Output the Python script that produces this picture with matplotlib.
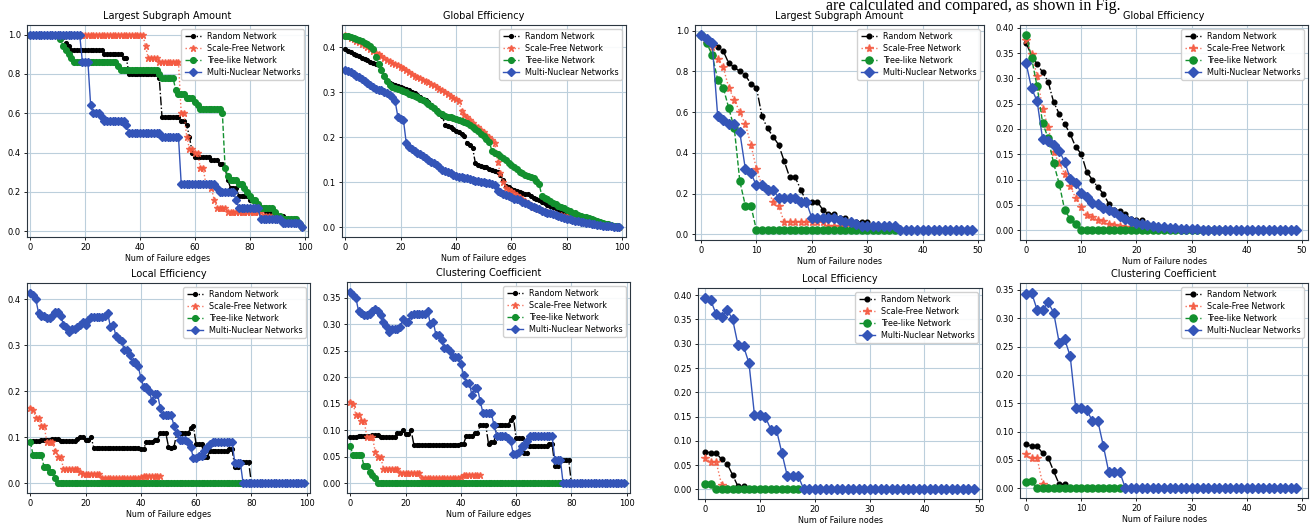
import matplotlib
matplotlib.use("Agg")
import matplotlib.pyplot as plt
import numpy as np

W, H = 1310, 523

NAMES = ["Random Network", "Scale-Free Network", "Tree-like Network", "Multi-Nuclear Networks"]

# ---------------- left block : failure of edges (x = 0..99) ----------------
# step series given as (value, run length)
lsa_rand = [(1.0, 13), (0.96, 1), (0.94, 1), (0.92, 12), (0.90, 7), (0.88, 2), (0.80, 11), (0.78, 1),
            (0.58, 7), (0.56, 2), (0.54, 1), (0.48, 1), (0.40, 1), (0.38, 6), (0.36, 3), (0.34, 2),
            (0.32, 1), (0.26, 1), (0.22, 3), (0.18, 4), (0.16, 3), (0.12, 3), (0.10, 3), (0.08, 4),
            (0.06, 3), (0.04, 3), (0.02, 1)]
lsa_sf = [(1.0, 42), (0.94, 1), (0.88, 4), (0.86, 8), (0.60, 2), (0.48, 1), (0.42, 2), (0.40, 2),
          (0.32, 2), (0.24, 2), (0.22, 1), (0.16, 1), (0.12, 4), (0.10, 13), (0.08, 6), (0.06, 5),
          (0.04, 3), (0.02, 1)]
lsa_tree = [(1.0, 11), (0.98, 1), (0.94, 1), (0.92, 1), (0.90, 1), (0.88, 1), (0.86, 16), (0.84, 1),
            (0.82, 14), (0.80, 1), (0.78, 5), (0.72, 1), (0.70, 3), (0.68, 3), (0.66, 1), (0.64, 1),
            (0.62, 8), (0.60, 1), (0.32, 1), (0.28, 1), (0.26, 3), (0.24, 2), (0.22, 1), (0.20, 1),
            (0.18, 1), (0.16, 2), (0.14, 1), (0.12, 5), (0.10, 1), (0.08, 2), (0.06, 6), (0.04, 1),
            (0.02, 1)]
lsa_multi = [(1.0, 19), (0.86, 3), (0.64, 1), (0.60, 3), (0.58, 1), (0.56, 8), (0.54, 1), (0.50, 12),
             (0.48, 7), (0.24, 13), (0.22, 1), (0.20, 6), (0.16, 1), (0.12, 8), (0.06, 8), (0.04, 7),
             (0.02, 1)]

ge_rand = [0.395, 0.392, 0.389, 0.386, 0.383, 0.380, 0.377, 0.374, 0.371, 0.368,
           0.365, 0.362, 0.360, 0.352, 0.338, 0.325, 0.320, 0.318, 0.316, 0.314,
           0.312, 0.310, 0.307, 0.304, 0.301, 0.298, 0.294, 0.290, 0.286, 0.282,
           0.278, 0.272, 0.266, 0.260, 0.254, 0.248, 0.228, 0.225, 0.222, 0.218,
           0.215, 0.212, 0.208, 0.203, 0.187, 0.182, 0.176, 0.142, 0.139, 0.137,
           0.135, 0.133, 0.130, 0.128, 0.126, 0.122, 0.116, 0.105, 0.092, 0.089,
           0.086, 0.083, 0.080, 0.078, 0.076, 0.075, 0.073, 0.070, 0.066, 0.063,
           0.060, 0.057, 0.053, 0.050, 0.047, 0.045, 0.042, 0.039, 0.037, 0.035,
           0.033, 0.030, 0.028, 0.026, 0.024, 0.022, 0.020, 0.018, 0.016, 0.014,
           0.013, 0.011, 0.010, 0.008, 0.007, 0.006, 0.004, 0.003, 0.001, 0.000]
ge_sf = [0.428, 0.425, 0.421, 0.418, 0.414, 0.411, 0.407, 0.404, 0.400, 0.396,
         0.392, 0.388, 0.384, 0.380, 0.376, 0.372, 0.369, 0.366, 0.363, 0.360,
         0.357, 0.353, 0.349, 0.345, 0.341, 0.337, 0.334, 0.331, 0.328, 0.325,
         0.322, 0.319, 0.316, 0.312, 0.308, 0.304, 0.300, 0.296, 0.292, 0.288,
         0.284, 0.280, 0.258, 0.250, 0.244, 0.238, 0.232, 0.226, 0.222, 0.217,
         0.212, 0.206, 0.200, 0.193, 0.188, 0.145, 0.120, 0.100, 0.088, 0.084,
         0.080, 0.076, 0.072, 0.068, 0.063, 0.058, 0.054, 0.050, 0.046, 0.043,
         0.040, 0.038, 0.036, 0.034, 0.033, 0.031, 0.030, 0.028, 0.027, 0.026,
         0.025, 0.023, 0.022, 0.020, 0.019, 0.017, 0.016, 0.014, 0.013, 0.011,
         0.010, 0.009, 0.008, 0.007, 0.005, 0.004, 0.003, 0.002, 0.001, 0.000]
ge_tree = [0.425, 0.424, 0.422, 0.420, 0.418, 0.416, 0.413, 0.410, 0.407, 0.403,
           0.395, 0.378, 0.362, 0.350, 0.336, 0.325, 0.316, 0.312, 0.310, 0.308,
           0.305, 0.303, 0.300, 0.297, 0.295, 0.292, 0.289, 0.286, 0.283, 0.279,
           0.275, 0.270, 0.264, 0.258, 0.254, 0.251, 0.248, 0.246, 0.244, 0.242,
           0.241, 0.239, 0.237, 0.234, 0.231, 0.227, 0.223, 0.218, 0.213, 0.208,
           0.203, 0.196, 0.189, 0.170, 0.166, 0.163, 0.159, 0.154, 0.149, 0.144,
           0.139, 0.134, 0.129, 0.124, 0.120, 0.116, 0.113, 0.111, 0.109, 0.103,
           0.096, 0.070, 0.066, 0.062, 0.058, 0.055, 0.052, 0.048, 0.045, 0.042,
           0.039, 0.036, 0.033, 0.031, 0.028, 0.026, 0.024, 0.022, 0.020, 0.018,
           0.016, 0.014, 0.012, 0.010, 0.008, 0.007, 0.005, 0.003, 0.002, 0.000]
ge_multi = [0.350, 0.348, 0.345, 0.341, 0.337, 0.333, 0.329, 0.325, 0.321, 0.317,
            0.312, 0.308, 0.306, 0.304, 0.301, 0.298, 0.295, 0.290, 0.280, 0.245,
            0.240, 0.238, 0.188, 0.178, 0.173, 0.170, 0.166, 0.162, 0.158, 0.154,
            0.150, 0.146, 0.142, 0.138, 0.134, 0.128, 0.125, 0.123, 0.120, 0.117,
            0.114, 0.112, 0.111, 0.110, 0.109, 0.108, 0.106, 0.104, 0.102, 0.101,
            0.100, 0.099, 0.098, 0.096, 0.095, 0.080, 0.078, 0.075, 0.072, 0.069,
            0.067, 0.064, 0.062, 0.060, 0.057, 0.054, 0.051, 0.048, 0.045, 0.042,
            0.040, 0.037, 0.035, 0.033, 0.031, 0.029, 0.027, 0.025, 0.023, 0.021,
            0.019, 0.018, 0.016, 0.015, 0.014, 0.012, 0.011, 0.010, 0.009, 0.008,
            0.007, 0.006, 0.005, 0.004, 0.003, 0.003, 0.002, 0.001, 0.001, 0.000]

le_rand = [(0.09, 1), (0.093, 2), (0.092, 1), (0.095, 4), (0.097, 3), (0.092, 6), (0.096, 1), (0.10, 2),
           (0.095, 2), (0.10, 1), (0.077, 15), (0.078, 2), (0.075, 2), (0.09, 3), (0.095, 2), (0.11, 3),
           (0.08, 1), (0.077, 1), (0.08, 1), (0.11, 5), (0.12, 1), (0.125, 1), (0.085, 3), (0.058, 2),
           (0.07, 7), (0.075, 2), (0.035, 2), (0.047, 4), (0.0, 20)]
le_sf = [(0.165, 1), (0.16, 1), (0.143, 2), (0.125, 2), (0.09, 3), (0.07, 1), (0.058, 2), (0.032, 6),
         (0.025, 1), (0.021, 7), (0.011, 14), (0.013, 1), (0.016, 7)]
le_tree = [(0.09, 1), (0.062, 4), (0.035, 2), (0.025, 2), (0.011, 1), (0.0, 90)]
le_multi = [(0.415, 1), (0.41, 1), (0.40, 1), (0.37, 1), (0.365, 2), (0.36, 2), (0.365, 1), (0.372, 2),
            (0.365, 1), (0.345, 1), (0.34, 1), (0.33, 1), (0.335, 2), (0.34, 1), (0.345, 1), (0.352, 1),
            (0.345, 1), (0.355, 1), (0.362, 5), (0.365, 1), (0.37, 1), (0.34, 1), (0.345, 1), (0.32, 1),
            (0.315, 1), (0.31, 1), (0.29, 2), (0.28, 1), (0.265, 2), (0.255, 1), (0.23, 1), (0.21, 2),
            (0.20, 1), (0.18, 1), (0.195, 2), (0.165, 1), (0.148, 4), (0.125, 1), (0.11, 1), (0.095, 3),
            (0.09, 1), (0.08, 1), (0.055, 2), (0.06, 2), (0.07, 1), (0.08, 1), (0.085, 1), (0.09, 8),
            (0.045, 3), (0.0, 23)]

cc_rand = [(0.088, 3), (0.09, 5), (0.092, 3), (0.088, 6), (0.095, 2), (0.10, 1), (0.093, 2), (0.10, 1),
           (0.073, 17), (0.075, 2), (0.09, 3), (0.095, 2), (0.11, 3), (0.075, 1), (0.078, 2), (0.11, 5),
           (0.12, 1), (0.125, 1), (0.085, 3), (0.057, 2), (0.07, 7), (0.075, 2), (0.033, 2), (0.045, 4),
           (0.0, 20)]
cc_sf = [(0.153, 1), (0.15, 1), (0.13, 2), (0.118, 2), (0.088, 3), (0.06, 1), (0.05, 2), (0.028, 6),
         (0.02, 8), (0.01, 14), (0.012, 1), (0.015, 7)]
cc_tree = [(0.07, 1), (0.053, 4), (0.032, 2), (0.022, 1), (0.015, 1), (0.01, 1), (0.0, 90)]
cc_multi = [(0.362, 1), (0.355, 1), (0.35, 1), (0.325, 1), (0.322, 1), (0.318, 2), (0.32, 1), (0.325, 1),
            (0.33, 1), (0.325, 1), (0.318, 1), (0.305, 1), (0.298, 1), (0.286, 1), (0.292, 3), (0.295, 1),
            (0.31, 1), (0.305, 2), (0.318, 1), (0.32, 5), (0.325, 1), (0.30, 1), (0.305, 1), (0.28, 2),
            (0.27, 1), (0.255, 2), (0.25, 1), (0.238, 3), (0.225, 1), (0.205, 1), (0.19, 2), (0.167, 1),
            (0.18, 2), (0.155, 1), (0.133, 4), (0.11, 1), (0.09, 4), (0.085, 1), (0.08, 1), (0.055, 2),
            (0.06, 1), (0.07, 2), (0.08, 1), (0.09, 9), (0.045, 3), (0.0, 23)]

# ---------------- right block : failure of nodes (x = 0..49) ----------------
nlsa_rand = [0.98, 0.96, 0.94, 0.92, 0.90, 0.84, 0.82, 0.80, 0.78, 0.74, 0.72, 0.58, 0.52, 0.48, 0.44,
             0.36, 0.28, 0.28, 0.22, 0.16, 0.16, 0.16, 0.12, 0.10, 0.10, 0.08, 0.08, 0.06, 0.06, 0.06, 0.06]
nlsa_sf = [0.98, 0.94, 0.92, 0.86, 0.82, 0.72, 0.66, 0.60, 0.54, 0.44, 0.32, 0.24, 0.22, 0.16, 0.14,
           0.06, 0.06, 0.06, 0.06, 0.06, 0.06, 0.06, 0.06, 0.04, 0.04, 0.04, 0.04, 0.04, 0.04, 0.04]
nlsa_tree = [(0.98, 1), (0.94, 1), (0.88, 1), (0.76, 1), (0.72, 1), (0.62, 1), (0.52, 1), (0.26, 1),
             (0.14, 2), (0.02, 26)]
nlsa_multi = [(0.98, 1), (0.96, 1), (0.94, 1), (0.58, 1), (0.56, 1), (0.54, 2), (0.50, 1), (0.32, 1),
              (0.30, 1), (0.24, 2), (0.22, 2), (0.18, 4), (0.16, 2), (0.08, 5), (0.07, 1), (0.06, 2),
              (0.05, 1), (0.04, 7), (0.02, 14)]

nge_rand = [0.370, 0.345, 0.328, 0.312, 0.293, 0.253, 0.230, 0.210, 0.190, 0.164, 0.151, 0.115, 0.100,
            0.085, 0.072, 0.052, 0.040, 0.038, 0.032, 0.022, 0.021, 0.020, 0.012, 0.009, 0.007, 0.005,
            0.004, 0.003, 0.002, 0.002, 0.001]
nge_sf = [0.375, 0.349, 0.304, 0.240, 0.204, 0.154, 0.133, 0.111, 0.088, 0.063, 0.045, 0.031, 0.027,
          0.021, 0.019, 0.013, 0.010, 0.008, 0.007, 0.006, 0.005, 0.005, 0.004, 0.004, 0.003, 0.003,
          0.002, 0.002, 0.001, 0.001]
nge_tree = [(0.386, 1), (0.340, 1), (0.284, 1), (0.212, 1), (0.182, 1), (0.132, 1), (0.092, 1),
            (0.040, 1), (0.022, 1), (0.012, 1), (0.0, 26)]
nge_multi = [(0.330, 1), (0.280, 1), (0.255, 1), (0.180, 1), (0.176, 1), (0.168, 1), (0.157, 1),
             (0.135, 1), (0.102, 1), (0.094, 1), (0.074, 1), (0.066, 1), (0.054, 1), (0.051, 1),
             (0.044, 1), (0.040, 1), (0.036, 1), (0.028, 1), (0.022, 1), (0.018, 1), (0.015, 1),
             (0.012, 1), (0.010, 1), (0.008, 1), (0.007, 1), (0.006, 1), (0.005, 1), (0.004, 1),
             (0.003, 2), (0.002, 2), (0.001, 4), (0.0, 14)]

nle_rand = [0.078, 0.075, 0.075, 0.062, 0.053, 0.030, 0.006, 0.006, 0.0, 0.0, 0.0]
nle_sf = [0.065, 0.057, 0.057, 0.010, 0.0, 0.0]
nle_tree = [(0.011, 1), (0.012, 1), (0.0, 16)]
nle_multi = [(0.395, 1), (0.390, 1), (0.361, 1), (0.356, 1), (0.369, 1), (0.351, 1), (0.297, 1),
             (0.295, 1), (0.260, 1), (0.153, 2), (0.149, 1), (0.123, 2), (0.075, 1), (0.027, 3),
             (0.0, 32)]

ncc_rand = [0.078, 0.074, 0.074, 0.062, 0.054, 0.030, 0.007, 0.007, 0.0, 0.0, 0.0]
ncc_sf = [0.060, 0.053, 0.053, 0.008, 0.0, 0.0]
ncc_tree = [(0.011, 1), (0.012, 1), (0.0, 16)]
ncc_multi = [(0.342, 1), (0.345, 1), (0.315, 2), (0.328, 1), (0.310, 1), (0.257, 1), (0.263, 1),
             (0.233, 1), (0.142, 2), (0.138, 1), (0.119, 2), (0.075, 1), (0.028, 3), (0.0, 32)]


def expand(s):
    if s and isinstance(s[0], tuple):
        v, n = zip(*s)
        return np.repeat(v, n)
    return np.asarray(s, float)


STYLES = [
    dict(color="black", ls="-.", marker="o", ms=2.7),
    dict(color="#f4583f", ls=":", marker="*", ms=4.6, alpha=0.85),
    dict(color="#12902e", ls="--", marker="o", ms=4.1),
    dict(color="#3455b8", ls="-", marker="D", ms=3.7),
]


def px_rect(l, r, t, b):
    return [l / W, 1 - b / H, (r - l) / W, (b - t) / H]


fig = plt.figure(figsize=(W / 100, H / 100), dpi=100)
fig.text(826 / W, 1 - 10 / H, "are calculated and compared, as shown in Fig.",
         fontsize=11.5, family="Liberation Serif", va="baseline", ha="left")

panels = [
    # rect, title, xlabel, series, xlim, yticks, ytick fmt, xticks, marker scale
    ((27, 308, 25, 237), "Largest Subgraph Amount", "Num of Failure edges",
     [lsa_rand, lsa_sf, lsa_tree, lsa_multi], (-1.2, 101.2), np.arange(0, 1.01, 0.2), "%.1f", range(0, 101, 20), 1.0),
    ((342, 626, 25, 237), "Global Efficiency", "Num of Failure edges",
     [ge_rand, ge_sf, ge_tree, ge_multi], (-1.2, 101.4), np.arange(0, 0.41, 0.1), "%.1f", range(0, 101, 20), 1.0),
    ((27, 310, 283, 493), "Local Efficiency", "Num of Failure edges",
     [le_rand, le_sf, le_tree, le_multi], (-1.2, 101.2), np.arange(0, 0.41, 0.1), "%.1f", range(0, 101, 20), 1.0),
    ((347, 630, 282, 493), "Clustering Coefficient", "Num of Failure edges",
     [cc_rand, cc_sf, cc_tree, cc_multi], (-1.2, 101.2), np.arange(0, 0.351, 0.05), "%.2f", range(0, 101, 20), 1.0),
    ((695, 984, 25, 240), "Largest Subgraph Amount", "Num of Failure nodes",
     [nlsa_rand, nlsa_sf, nlsa_tree, nlsa_multi], (-1.1, 51.1), np.arange(0, 1.01, 0.2), "%.1f", range(0, 51, 10), 1.25),
    ((1020, 1308, 25, 240), "Global Efficiency", "Num of Failure nodes",
     [nge_rand, nge_sf, nge_tree, nge_multi], (-1.1, 51.1), np.arange(0, 0.401, 0.05), "%.2f", range(0, 51, 10), 1.25),
    ((698, 982, 288, 499), "Local Efficiency", "Num of Failure nodes",
     [nle_rand, nle_sf, nle_tree, nle_multi], (-1.3, 50.5), np.arange(0, 0.401, 0.05), "%.2f", range(0, 51, 10), 1.25),
    ((1020, 1308, 283, 498), "Clustering Coefficient", "Num of Failure nodes",
     [ncc_rand, ncc_sf, ncc_tree, ncc_multi], (-1.1, 51.1), np.arange(0, 0.351, 0.05), "%.2f", range(0, 51, 10), 1.25),
]

for rect, title, xlabel, series, xlim, yticks, fmt, xticks, mscale in panels:
    ax = fig.add_axes(px_rect(*rect))
    for name, s, st in zip(NAMES, series, STYLES):
        y = expand(s)
        kw = dict(st)
        kw["ms"] = st["ms"] * mscale
        ax.plot(np.arange(len(y)), y, lw=1.0, label=name, **kw)
    ax.set_xlim(*xlim)
    ax.set_xticks(list(xticks))
    ax.set_yticks(yticks)
    ax.set_yticklabels([fmt % v for v in yticks])
    ax.grid(True, color="#bccfdc", lw=0.8)
    ax.set_axisbelow(True)
    ax.tick_params(labelsize=6, length=2.5, width=0.6, pad=2)
    for sp in ax.spines.values():
        sp.set_color("#2b3640")
        sp.set_linewidth(0.8)
    ax.set_title(title, fontsize=7, pad=4)
    ax.set_xlabel(xlabel, fontsize=5.8, labelpad=1.5)
    ax.legend(loc="upper right", fontsize=5.8, handlelength=2.0, borderpad=0.4,
              labelspacing=0.35, framealpha=0.9, fancybox=True)

fig.savefig("out.png", dpi=100)
